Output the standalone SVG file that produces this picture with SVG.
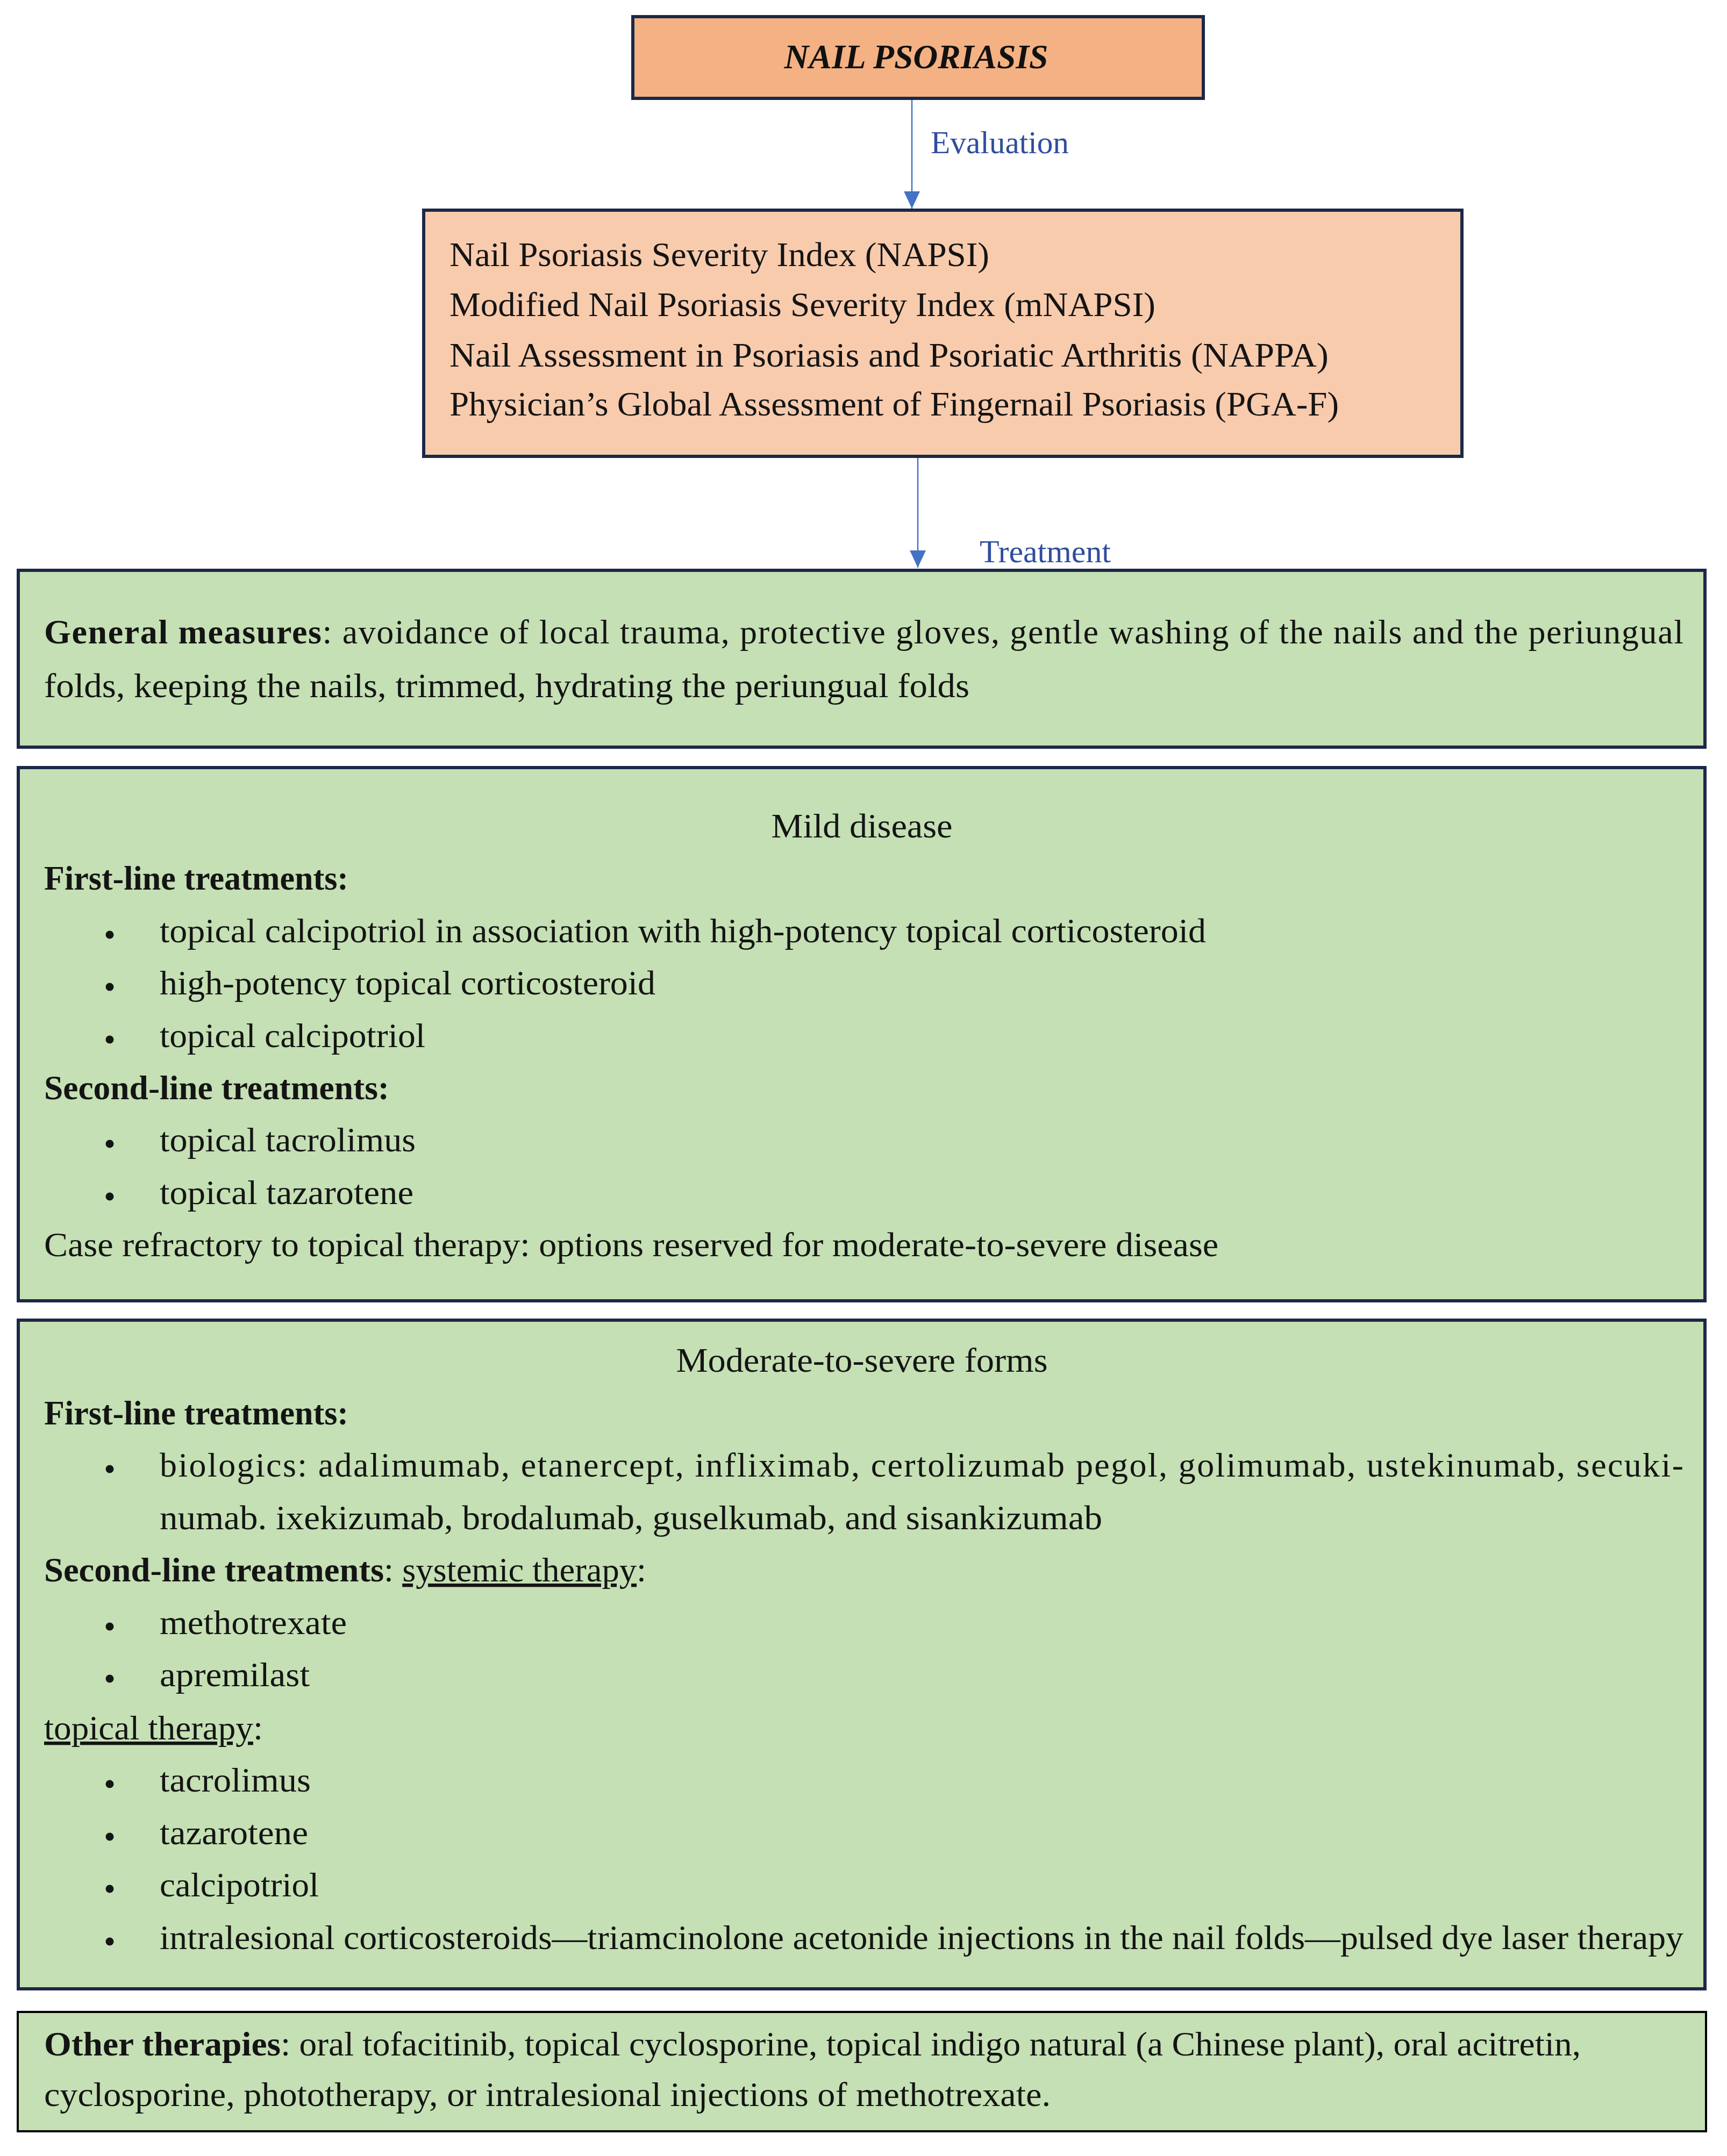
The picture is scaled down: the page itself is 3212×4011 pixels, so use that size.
<svg xmlns="http://www.w3.org/2000/svg" width="3212" height="4011" viewBox="0 0 3212 4011">
<style>
.t{font-family:"Liberation Serif","Times New Roman",serif;font-size:64px;fill:#141414}
.b{font-weight:bold}
.u{text-decoration:underline}
.lbl{font-family:"Liberation Serif","Times New Roman",serif;font-size:60px;fill:#2f4e9e}
.ttl{font-family:"Liberation Serif","Times New Roman",serif;font-size:64px;font-weight:bold;font-style:italic;fill:#111}
.bo{fill:#f4b183;stroke:#1c2848;stroke-width:6}
.bp{fill:#f8cbad;stroke:#1c2848;stroke-width:6}
.bg{fill:#c5e0b4;stroke:#1c2848;stroke-width:6}
.bk{fill:#c5e0b4;stroke:#000;stroke-width:4}
.conn{stroke:#4472c4;stroke-width:2.5;fill:none}
.dot{fill:#141414}
</style>
<defs>
<marker id="ah" markerUnits="userSpaceOnUse" markerWidth="32" markerHeight="30" viewBox="0 0 32 30" refX="32" refY="15" orient="auto">
<path d="M0,0 L32,15 L0,30 Z" fill="#4472c4"/>
</marker>
</defs>
<rect width="3212" height="4011" fill="#ffffff"/>

<g id="connectors">
<line class="conn" x1="1696" y1="185" x2="1696" y2="388" marker-end="url(#ah)"/>
<text class="lbl" x="1731" y="285" textLength="257" lengthAdjust="spacingAndGlyphs">Evaluation</text>
<line class="conn" x1="1707" y1="852" x2="1707" y2="1056" marker-end="url(#ah)"/>
<text class="lbl" x="1822" y="1046" textLength="244" lengthAdjust="spacingAndGlyphs">Treatment</text>
</g>

<g id="nail-psoriasis">
<rect class="bo" x="1177" y="31" width="1061" height="152"/>
<text class="ttl" x="1704" y="127" text-anchor="middle" textLength="491" lengthAdjust="spacingAndGlyphs">NAIL PSORIASIS</text>
</g>

<g id="evaluation">
<rect class="bp" x="788" y="391" width="1931" height="458"/>
<text class="t" x="836" y="495" textLength="1004" lengthAdjust="spacingAndGlyphs">Nail Psoriasis Severity Index (NAPSI)</text>
<text class="t" x="836" y="588" textLength="1313" lengthAdjust="spacingAndGlyphs">Modified Nail Psoriasis Severity Index (mNAPSI)</text>
<text class="t" x="836" y="682" textLength="1635" lengthAdjust="spacingAndGlyphs">Nail Assessment in Psoriasis and Psoriatic Arthritis (NAPPA)</text>
<text class="t" x="836" y="773" textLength="1654" lengthAdjust="spacingAndGlyphs">Physician’s Global Assessment of Fingernail Psoriasis (PGA-F)</text>
</g>

<g id="general-measures">
<rect class="bg" x="34" y="1061" width="3137" height="329"/>
<text class="t" x="82" y="1197" textLength="3049" lengthAdjust="spacing"><tspan class="b">General measures</tspan>: avoidance of local trauma, protective gloves, gentle washing of the nails and the periungual</text>
<text class="t" x="82" y="1297" textLength="1721" lengthAdjust="spacingAndGlyphs">folds, keeping the nails, trimmed, hydrating the periungual folds</text>
</g>

<g id="mild-disease">
<rect class="bg" x="34" y="1428" width="3137" height="992"/>
<text class="t" x="1603" y="1558" text-anchor="middle" textLength="337" lengthAdjust="spacingAndGlyphs">Mild disease</text>
<text class="t b" x="82" y="1655" textLength="566" lengthAdjust="spacingAndGlyphs">First-line treatments:</text>
<circle class="dot" cx="204" cy="1739" r="7.5"/>
<text class="t" x="297" y="1753" textLength="1946" lengthAdjust="spacingAndGlyphs">topical calcipotriol in association with high-potency topical corticosteroid</text>
<circle class="dot" cx="204" cy="1836" r="7.5"/>
<text class="t" x="297" y="1850" textLength="922" lengthAdjust="spacingAndGlyphs">high-potency topical corticosteroid</text>
<circle class="dot" cx="204" cy="1934" r="7.5"/>
<text class="t" x="297" y="1948" textLength="494" lengthAdjust="spacingAndGlyphs">topical calcipotriol</text>
<text class="t b" x="82" y="2045" textLength="642" lengthAdjust="spacingAndGlyphs">Second-line treatments:</text>
<circle class="dot" cx="204" cy="2128" r="7.5"/>
<text class="t" x="297" y="2142" textLength="476" lengthAdjust="spacingAndGlyphs">topical tacrolimus</text>
<circle class="dot" cx="204" cy="2226" r="7.5"/>
<text class="t" x="297" y="2240" textLength="472" lengthAdjust="spacingAndGlyphs">topical tazarotene</text>
<text class="t" x="82" y="2337" textLength="2184" lengthAdjust="spacingAndGlyphs">Case refractory to topical therapy: options reserved for moderate-to-severe disease</text>
</g>

<g id="moderate-severe">
<rect class="bg" x="34" y="2456" width="3137" height="1244"/>
<text class="t" x="1603" y="2552" text-anchor="middle" textLength="691" lengthAdjust="spacingAndGlyphs">Moderate-to-severe forms</text>
<text class="t b" x="82" y="2650" textLength="566" lengthAdjust="spacingAndGlyphs">First-line treatments:</text>
<circle class="dot" cx="204" cy="2733" r="7.5"/>
<text class="t" x="297" y="2747" textLength="2834" lengthAdjust="spacing">biologics: adalimumab, etanercept, infliximab, certolizumab pegol, golimumab, ustekinumab, secuki-</text>
<text class="t" x="297" y="2845" textLength="1753" lengthAdjust="spacingAndGlyphs">numab. ixekizumab, brodalumab, guselkumab, and sisankizumab</text>
<text class="t" x="82" y="2942" textLength="1120" lengthAdjust="spacingAndGlyphs"><tspan class="b">Second-line treatments</tspan>: <tspan class="u">systemic therapy</tspan>:</text>
<circle class="dot" cx="204" cy="3026" r="7.5"/>
<text class="t" x="297" y="3040" textLength="348" lengthAdjust="spacingAndGlyphs">methotrexate</text>
<circle class="dot" cx="204" cy="3123" r="7.5"/>
<text class="t" x="297" y="3137" textLength="279" lengthAdjust="spacingAndGlyphs">apremilast</text>
<text class="t" x="82" y="3236" textLength="407" lengthAdjust="spacingAndGlyphs"><tspan class="u">topical therapy</tspan>:</text>
<circle class="dot" cx="204" cy="3319" r="7.5"/>
<text class="t" x="297" y="3333" textLength="281" lengthAdjust="spacingAndGlyphs">tacrolimus</text>
<circle class="dot" cx="204" cy="3417" r="7.5"/>
<text class="t" x="297" y="3431" textLength="276" lengthAdjust="spacingAndGlyphs">tazarotene</text>
<circle class="dot" cx="204" cy="3514" r="7.5"/>
<text class="t" x="297" y="3528" textLength="296" lengthAdjust="spacingAndGlyphs">calcipotriol</text>
<circle class="dot" cx="204" cy="3612" r="7.5"/>
<text class="t" x="297" y="3626" textLength="2834" lengthAdjust="spacingAndGlyphs">intralesional corticosteroids—triamcinolone acetonide injections in the nail folds—pulsed dye laser therapy</text>
</g>

<g id="other-therapies">
<rect class="bk" x="33" y="3743" width="3140" height="222"/>
<text class="t" x="82" y="3824" textLength="2858" lengthAdjust="spacingAndGlyphs"><tspan class="b">Other therapies</tspan>: oral tofacitinib, topical cyclosporine, topical indigo natural (a Chinese plant), oral acitretin,</text>
<text class="t" x="82" y="3918" textLength="1872" lengthAdjust="spacingAndGlyphs">cyclosporine, phototherapy, or intralesional injections of methotrexate.</text>
</g>
</svg>
